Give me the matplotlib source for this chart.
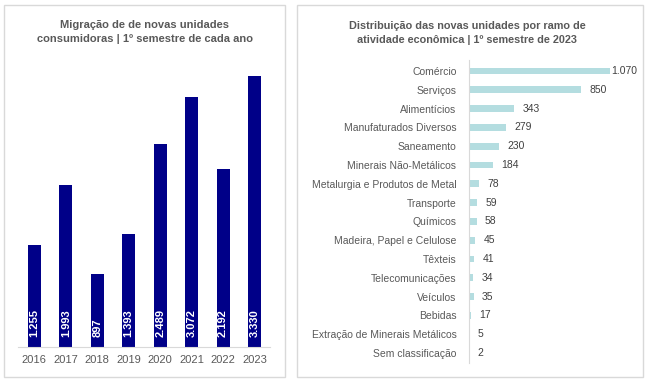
import matplotlib.pyplot as plt
from matplotlib.patches import Rectangle

plt.rcParams['font.family'] = ['Liberation Sans', 'DejaVu Sans']

anos = ['2016', '2017', '2018', '2019', '2020', '2021', '2022', '2023']
migracoes = [1255, 1993, 897, 1393, 2489, 3072, 2192, 3330]
rotulos_mig = ['1.255', '1.993', '897', '1.393', '2.489', '3.072', '2.192', '3.330']

ramos = ['Comércio', 'Serviços', 'Alimentícios', 'Manufaturados Diversos', 'Saneamento',
         'Minerais Não-Metálicos', 'Metalurgia e Produtos de Metal', 'Transporte', 'Químicos',
         'Madeira, Papel e Celulose', 'Têxteis', 'Telecomunicações', 'Veículos', 'Bebidas',
         'Extração de Minerais Metálicos', 'Sem classificação']
unidades = [1070, 850, 343, 279, 230, 184, 78, 59, 58, 45, 41, 34, 35, 17, 5, 2]
rotulos_uni = ['1.070', '850', '343', '279', '230', '184', '78', '59', '58', '45', '41',
               '34', '35', '17', '5', '2']

W, H = 646, 383
fig = plt.figure(figsize=(W / 100, H / 100), dpi=100)

def px_axes(x0, y0, x1, y1):
    return fig.add_axes([x0 / W, 1 - y1 / H, (x1 - x0) / W, (y1 - y0) / H])

# panel borders
for x0, x1 in [(4, 285), (297, 643)]:
    fig.add_artist(Rectangle((x0 / W, 1 - 377 / H), (x1 - x0) / W, 372 / H,
                             transform=fig.transFigure, fill=False,
                             edgecolor='#d9d9d9', linewidth=1))

cinza = '#595959'

# left: yearly migrations
ax1 = px_axes(18, 62, 270, 347)
x = range(len(anos))
ax1.bar(x, migracoes, width=0.42, color='#000088')
for i, lab in enumerate(rotulos_mig):
    ax1.annotate(lab, (i, 0), xytext=(0, 7), textcoords='offset points',
                 rotation=90, ha='center', va='bottom', color='white',
                 fontsize=8, fontweight='bold')
ax1.set_xlim(-0.52, 7.49)
ax1.set_ylim(0, 3500)
ax1.set_xticks(list(x))
ax1.set_xticklabels(anos, fontsize=8, color=cinza)
ax1.tick_params(axis='x', length=0, pad=6)
ax1.set_yticks([])
for s in ['top', 'right', 'left']:
    ax1.spines[s].set_visible(False)
ax1.spines['bottom'].set_color('#d9d9d9')
fig.text(145 / W, 1 - 32 / H,
         'Migração de de novas unidades\nconsumidoras | 1º semestre de cada ano',
         ha='center', va='center', fontsize=8, fontweight='bold', color=cinza,
         linespacing=1.45)

# right: distribution by activity
ax2 = px_axes(469, 60, 630, 363)
y = range(len(ramos))
ax2.barh(y, unidades, height=0.36, color='#b4dde0')
for i, (v, lab) in enumerate(zip(unidades, rotulos_uni)):
    pad = 1 if v == max(unidades) else 6
    ax2.annotate(lab, (v, i), xytext=(pad, 0), textcoords='offset points',
                 ha='left', va='center', fontsize=7.5, color='#404040')
ax2.set_ylim(15.53, -0.58)
ax2.set_xlim(0, 1222)
ax2.set_yticks(list(y))
ax2.set_yticklabels(ramos, fontsize=7.5, color=cinza)
ax2.tick_params(axis='y', length=0, pad=9)
ax2.set_xticks([])
for s in ['top', 'right', 'bottom']:
    ax2.spines[s].set_visible(False)
ax2.spines['left'].set_color('#d9d9d9')
fig.text(467 / W, 1 - 33 / H,
         'Distribuição das novas unidades por ramo de\natividade econômica | 1º semestre de 2023',
         ha='center', va='center', fontsize=7.8, fontweight='bold', color=cinza,
         linespacing=1.45)

fig.savefig('out.png', dpi=100)
